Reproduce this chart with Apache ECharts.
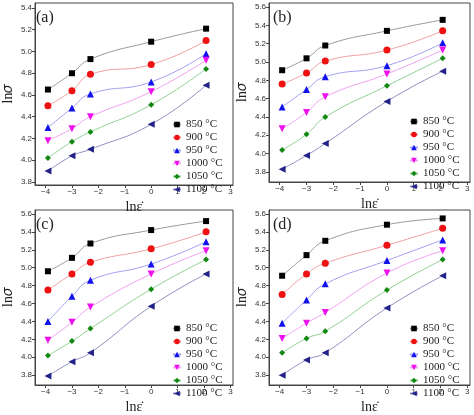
<!DOCTYPE html><html><head><meta charset="utf-8"><script src="https://cdn.jsdelivr.net/npm/echarts@6/dist/echarts.min.js"></script></head><body style="margin:0"><div id="c" style="width:474px;height:415px"></div><script>
const xVals=[-3.91,-3.0,-2.3,0,2.08];
const temps=['850 °C','900 °C','950 °C','1000 °C','1050 °C','1100 °C'];
const xTicks=[-4,-3,-2,-1,0,1,2,3];
const yTicksA=[3.8,4.0,4.2,4.4,4.6,4.8,5.0,5.2,5.4];
const yTicksB=[3.8,4.0,4.2,4.4,4.6,4.8,5.0,5.2,5.4,5.6];
const panelA=[[4.65,4.80,4.93,5.09,5.21],[4.50,4.64,4.79,4.88,5.10],[4.30,4.48,4.61,4.72,4.98],[4.18,4.29,4.40,4.63,4.92],[4.02,4.17,4.26,4.51,4.84],[3.90,4.04,4.10,4.33,4.69]];
const panelB=[[4.91,5.04,5.18,5.34,5.46],[4.76,4.88,5.01,5.13,5.34],[4.51,4.70,4.84,4.96,5.21],[4.27,4.45,4.62,4.87,5.13],[4.04,4.21,4.40,4.74,5.04],[3.83,3.98,4.11,4.57,4.90]];
const panelC=[[4.96,5.11,5.27,5.42,5.52],[4.75,4.93,5.06,5.21,5.40],[4.40,4.68,4.86,5.04,5.29],[4.19,4.39,4.56,4.93,5.19],[4.02,4.18,4.32,4.76,5.09],[3.79,3.95,4.05,4.57,4.93]];
const panelD=[[4.91,5.14,5.30,5.48,5.55],[4.70,4.93,5.05,5.25,5.44],[4.38,4.64,4.82,5.08,5.31],[4.21,4.38,4.50,4.94,5.19],[4.05,4.21,4.29,4.75,5.09],[3.80,3.97,4.05,4.55,4.91]];
const panels=[panelA,panelB,panelC,panelD];
const labels=['(a)','(b)','(c)','(d)'];
const symCol=['#000','#ee1111','#1111ee','#ee11ee','#118811','#222288'];
const lineCol=['#999','#f0a0a0','#a0a0f0','#f0a0f0','#90d090','#8f8fc0'];
const syms=['rect','circle','triangle','triangle','diamond','triangle'];
const rots=[0,0,0,180,0,90];
const sizes=[6,7,7,7,6,7];
const grids=[{left:32,top:3,width:201,height:182,ymin:3.772,ymax:5.446,yt:yTicksA},
{left:269,top:3,width:201,height:179,ymin:3.69,ymax:5.644,yt:yTicksB},
{left:32,top:210,width:201,height:179,ymin:3.69,ymax:5.644,yt:yTicksB},
{left:269,top:210,width:201,height:179,ymin:3.69,ymax:5.644,yt:yTicksB}];
const fmt=v=>String(v).replace('-','−');
const opt={animation:false,grid:[],xAxis:[],yAxis:[],series:[],legend:[],graphic:[]};
grids.forEach((g,i)=>{
opt.grid.push({left:g.left,top:g.top,width:g.width,height:g.height,show:true,borderColor:'#444',borderWidth:1});
opt.xAxis.push({type:'value',gridIndex:i,min:-4.4,max:3.1,name:'lnε̇',nameLocation:'middle',nameGap:15,nameTextStyle:{fontFamily:'Liberation Serif',fontSize:14,color:'#222'},
axisLine:{onZero:false,lineStyle:{color:'#444'}},splitLine:{show:false},axisTick:{length:3,customValues:xTicks},
axisLabel:{customValues:xTicks,fontSize:8,color:'#333',margin:3,formatter:fmt}});
const yt=g.yt;
opt.yAxis.push({type:'value',gridIndex:i,min:g.ymin,max:g.ymax,name:'ln𝜎',nameLocation:'middle',nameGap:20,nameTextStyle:{fontFamily:'Liberation Serif',fontSize:14,color:'#222'},
axisLine:{onZero:false,lineStyle:{color:'#444'}},splitLine:{show:false},axisTick:{length:3,customValues:yt},
axisLabel:{customValues:yt,fontSize:8,color:'#333',margin:3,formatter:v=>v.toFixed(1)}});
panels[i].forEach((vals,k)=>{
opt.series.push({type:'line',name:temps[k],xAxisIndex:i,yAxisIndex:i,smooth:0.5,data:xVals.map((x,j)=>[x,vals[j]]),
symbol:syms[k],symbolRotate:rots[k],symbolSize:sizes[k],itemStyle:{color:symCol[k]},lineStyle:{color:lineCol[k],width:1}});
});
opt.legend.push({data:temps,orient:'vertical',left:g.left+140,top:g.top+g.height-66,itemWidth:8,itemHeight:7,itemGap:2,padding:0,
textStyle:{fontFamily:'Liberation Serif',fontSize:11,lineHeight:8,color:'#222'},selectedMode:false});
opt.graphic.push({type:'text',left:g.left+4,top:g.top+7,style:{text:labels[i],font:'16px Liberation Serif',fill:'#222'}});
});
echarts.init(document.getElementById('c')).setOption(opt);
</script></body></html>
